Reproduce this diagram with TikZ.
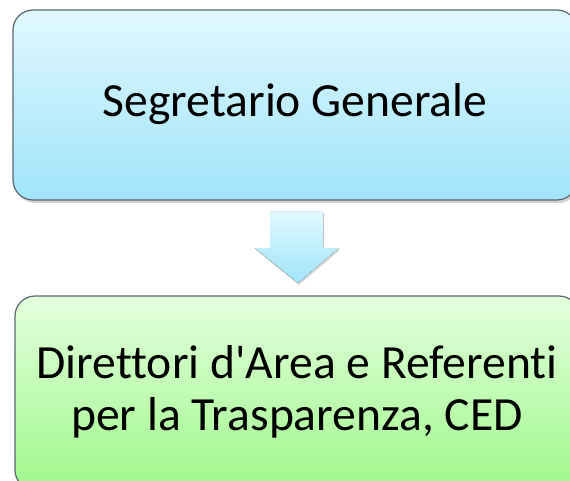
\documentclass[tikz,border=0pt]{standalone}
\usepackage{fontspec}
\setmainfont{Carlito}[Ligatures={TeXOff,NoCommon}]
\usetikzlibrary{shadows,calc}
\definecolor{btop}{HTML}{E0F8FF}
\definecolor{bbot}{HTML}{A0E4FA}
\definecolor{gtop}{HTML}{E2FFDC}
\definecolor{gbot}{HTML}{A0F88C}
\definecolor{edge}{HTML}{5A6670}
\tikzset{
  box/.style={rounded corners=20pt, draw=edge, line width=1.2pt,
    drop shadow={shadow xshift=2pt, shadow yshift=-3pt, opacity=0.35}},
  lbl/.style={font=\fontsize{47.6}{52}\selectfont, align=center, text=black, inner sep=0pt, anchor=base}
}
\begin{document}
\begin{tikzpicture}[x=1pt,y=-1pt]
\useasboundingbox (0,0) rectangle (570,481);
\begin{scope}
\clip (0,0) rectangle (570,481);
\draw[box, top color=btop, bottom color=bbot] (13,10) rectangle (577,200);
\node[lbl] (t) at (295,117) {Segretario Generale};
\draw[box, top color=gtop, bottom color=gbot] (15,296) rectangle (579,490);
\node[lbl] (b) at (297,430) {Direttori d'Area e Referenti\\per la Trasparenza, CED};
\fill[top color=btop, bottom color=bbot,
  drop shadow={shadow xshift=1pt, shadow yshift=-2pt, opacity=0.3}]
  (270,212) -- (323,212) -- (323,248) -- (339,248) -- (298,283) -- (255,248) -- (270,248) -- cycle;
\end{scope}
\end{tikzpicture}
\end{document}
